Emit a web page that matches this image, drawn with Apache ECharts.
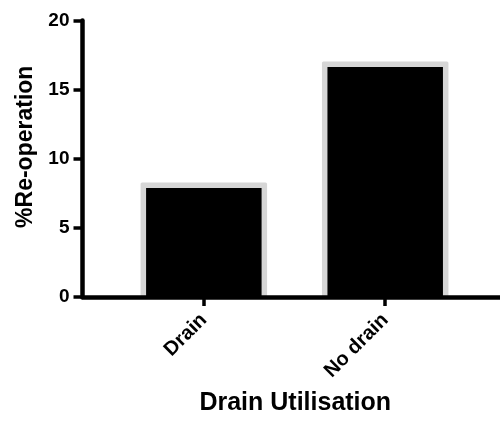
<!DOCTYPE html>
<html>
<head>
<meta charset="utf-8">
<script src="https://cdn.jsdelivr.net/npm/echarts@6/dist/echarts.min.js"></script>
<style>
html,body{margin:0;padding:0;background:#fff;}
#chart{width:500px;height:421px;}
</style>
</head>
<body>
<div id="chart"></div>
<script>
const categories = ['Drain', 'No drain'];
const reoperation = [8.08, 16.83];
const yTickValues = [0, 5, 10, 15, 20];
const xTitle = 'Drain Utilisation';
const yTitle = '%Re-operation';

const positions = categories.map((c, i) => i + 1);
const barData = categories.map((c, i) => [positions[i], reoperation[i]]);

const chart = echarts.init(document.getElementById('chart'), null, {renderer: 'canvas'});
const font = '"Liberation Sans", Arial, sans-serif';
const BAR_W = 121, BORDER = 5.5;

function renderBar(params, api) {
  const x = api.value(0), v = api.value(1);
  const top = api.coord([x, v]);
  const base = api.coord([x, 0]);
  const h = base[1] - top[1];
  return {
    type: 'group',
    children: [
      {type: 'rect', shape: {x: top[0] - BAR_W / 2 - BORDER / 2, y: top[1] - BORDER / 2, width: BAR_W + BORDER, height: h + BORDER / 2, r: 1.5},
       style: {fill: '#d6d6d6'}},
      {type: 'rect', shape: {x: top[0] - BAR_W / 2 + BORDER / 2, y: top[1] + BORDER / 2, width: BAR_W - BORDER, height: h - BORDER / 2},
       style: {fill: '#000'}}
    ]
  };
}

chart.setOption({
  animation: false,
  backgroundColor: '#fff',
  grid: {left: 82.5, right: 0, top: 20.5, bottom: 117, containLabel: false},
  xAxis: {
    type: 'value',
    min: 0.331,
    max: 2.633,
    z: 5,
    name: xTitle,
    nameLocation: 'middle',
    nameGap: 94,
    nameTextStyle: {fontFamily: font, fontWeight: 'bold', fontSize: 25, color: '#000', padding: [0, 0, 0, 8]},
    splitLine: {show: false},
    axisLine: {show: true, onZero: false, lineStyle: {color: '#000', width: 4.5}},
    axisTick: {show: true, customValues: positions, length: 9, lineStyle: {color: '#000', width: 3.5}},
    axisLabel: {
      customValues: positions,
      formatter: v => categories[Math.round(v) - 1] || '',
      rotate: 45,
      margin: 20,
      fontFamily: font, fontWeight: 'bold', fontSize: 20, color: '#000'
    }
  },
  yAxis: {
    type: 'value',
    min: yTickValues[0],
    max: yTickValues[yTickValues.length - 1],
    interval: 5,
    z: 5,
    name: yTitle,
    nameLocation: 'middle',
    nameGap: 42,
    nameTextStyle: {fontFamily: font, fontWeight: 'bold', fontSize: 23, color: '#000', padding: [0, 0, 0, 24]},
    splitLine: {show: false},
    axisLine: {show: true, lineStyle: {color: '#000', width: 4.5}},
    axisTick: {show: true, length: 9, lineStyle: {color: '#000', width: 3.5}},
    axisLabel: {margin: 13, fontFamily: font, fontWeight: 'bold', fontSize: 19, color: '#000'}
  },
  series: [{
    type: 'custom',
    data: barData,
    encode: {x: 0, y: 1},
    renderItem: renderBar
  }]
});
</script>
</body>
</html>
